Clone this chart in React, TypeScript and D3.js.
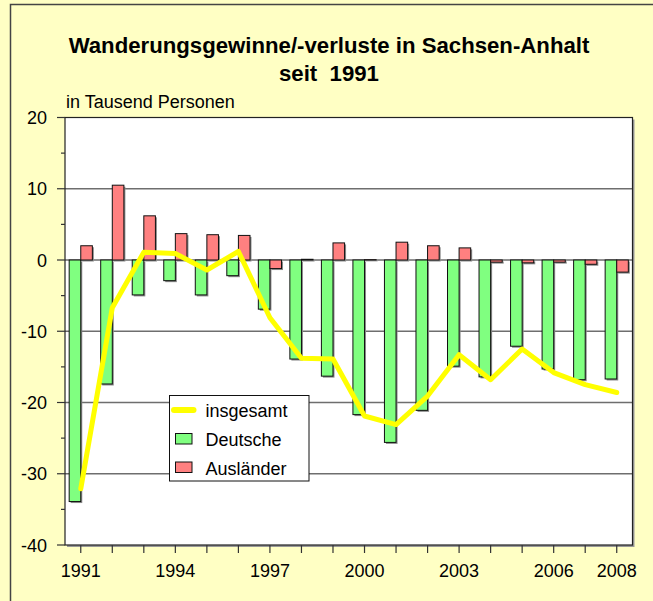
import React from "react";
import * as d3 from "d3";

const years = [1991,1992,1993,1994,1995,1996,1997,1998,1999,2000,2001,2002,2003,2004,2005,2006,2007,2008];
const deutsche = [-33.9,-17.4,-4.9,-2.9,-4.9,-2.2,-6.9,-13.9,-16.3,-21.7,-25.6,-21.1,-14.9,-16.4,-12.1,-15.3,-16.8,-16.7];
const auslaender = [2.0,10.5,6.2,3.7,3.55,3.45,-1.2,0.1,2.4,0.05,2.5,2.0,1.7,-0.3,-0.4,-0.3,-0.6,-1.7];
const insgesamt = [-32.1,-6.7,1.1,0.9,-1.4,1.2,-8.1,-13.8,-13.9,-21.9,-23.1,-19.1,-13.3,-16.8,-12.5,-15.8,-17.5,-18.6];
const yTicks = [20,10,0,-10,-20,-30,-40];
const yMinorTicks = [15,5,-5,-15,-25,-35];
const gridValues = [10,0,-10,-20,-30];
const xLabelYears = [1991,1994,1997,2000,2003,2006,2008];
const seriesNames = ["Deutsche","Ausländer"];
const titleLines = ["Wanderungsgewinne/-verluste in Sachsen-Anhalt","seit  1991"];
const unitLabel = "in Tausend Personen";
const legendLabels = ["insgesamt","Deutsche","Ausländer"];

const BG = "#FFFFC4";
const GREEN = "#80FF80";
const RED = "#FF8080";
const YELLOW = "#FFFF00";
const FONT = "'Liberation Sans', Arial, sans-serif";

export default function App() {
  const left = 65, right = 632.5, top = 117.5, bottom = 545;
  const x = d3.scaleBand<number>().domain(years).range([left, right]).paddingInner(0).paddingOuter(0);
  const sub = d3.scaleBand<string>().domain(seriesNames).range([0, x.bandwidth()]).paddingInner(0).paddingOuter(0.36);
  const y = d3.scaleLinear().domain([-40, 20]).range([bottom, top]);
  const cx = (yr: number) => (x(yr) as number) + x.bandwidth() / 2;

  const line = d3.line<number>()
    .x((_, i) => cx(years[i]))
    .y((v) => y(v));

  const bar = (v: number, yr: number, s: string, color: string, key: string) => {
    const bx = (x(yr) as number) + (sub(s) as number);
    const bw = sub.bandwidth();
    const y0 = y(Math.max(0, v));
    const h = Math.abs(y(v) - y(0));
    return (
      <g key={key}>
        <rect x={bx + 1.5} y={y0 + 1.5} width={bw} height={h} fill="#8a8a8a" />
        <rect x={bx} y={y0} width={bw} height={h} fill={color} stroke="#111" strokeWidth={1} />
      </g>
    );
  };

  const legX = 169.5, legY = 395.5;

  return (
    <svg width={653} height={601} style={{ position: "absolute", left: 0, top: 0 }} fontFamily={FONT}>
      <rect x={0} y={0} width={653} height={601} fill={BG} />
      <rect x={10.5} y={4.5} width={700} height={700} fill={BG} stroke="#444" strokeWidth={1.5} />
      {titleLines.map((t, i) => (
        <text key={t} x={329} y={53 + i * 28} textAnchor="middle" fontWeight="bold" fontSize={22.2} fill="#000" style={{ whiteSpace: "pre" }}>{t}</text>
      ))}
      <text x={66} y={108} fontSize={18} fill="#000">{unitLabel}</text>

      {/* plot area */}
      <rect x={left + 2} y={top + 2} width={right - left} height={bottom - top} fill="#999" />
      <rect x={left} y={top} width={right - left} height={bottom - top} fill="#fff" />
      {gridValues.map((v) => (
        <line key={v} x1={left} x2={right} y1={y(v)} y2={y(v)} stroke="#6e6e6e" strokeWidth={1.5} />
      ))}
      <rect x={left} y={top} width={right - left} height={bottom - top} fill="none" stroke="#222" strokeWidth={1.2} />

      {/* y axis */}
      {yTicks.map((v) => (
        <g key={v}>
          <line x1={57} x2={left} y1={y(v)} y2={y(v)} stroke="#333" strokeWidth={1.2} />
          <text x={47} y={y(v) + 6.5} textAnchor="end" fontSize={18} fill="#000">{v}</text>
        </g>
      ))}
      {yMinorTicks.map((v) => (
        <line key={v} x1={61} x2={left} y1={y(v)} y2={y(v)} stroke="#333" strokeWidth={1.2} />
      ))}

      {/* x axis */}
      {years.map((yr) => (
        <line key={yr} x1={cx(yr)} x2={cx(yr)} y1={bottom} y2={bottom + 8} stroke="#333" strokeWidth={1.2} />
      ))}
      {xLabelYears.map((yr) => (
        <text key={yr} x={cx(yr)} y={577} textAnchor="middle" fontSize={18} fill="#000">{yr}</text>
      ))}

      {/* bars */}
      {years.map((yr, i) => bar(deutsche[i], yr, seriesNames[0], GREEN, "d" + yr))}
      {years.map((yr, i) => bar(auslaender[i], yr, seriesNames[1], RED, "a" + yr))}

      {/* line */}
      <path d={line(insgesamt) || ""} fill="none" stroke={YELLOW} strokeWidth={5} strokeLinejoin="round" strokeLinecap="round" />

      {/* legend */}
      <rect x={legX} y={legY} width={139.5} height={85.5} fill="#fff" stroke="#111" strokeWidth={1} />
      <line x1={174} x2={193.5} y1={410} y2={410} stroke={YELLOW} strokeWidth={6} strokeLinecap="round" />
      <rect x={175.5} y={433.5} width={16.5} height={10.5} fill={GREEN} stroke="#111" strokeWidth={1} />
      <rect x={175.5} y={462} width={16.5} height={10.5} fill={RED} stroke="#111" strokeWidth={1} />
      {legendLabels.map((l, i) => (
        <text key={l} x={205.5} y={416.5 + i * 29} fontSize={18} fill="#000">{l}</text>
      ))}
    </svg>
  );
}
